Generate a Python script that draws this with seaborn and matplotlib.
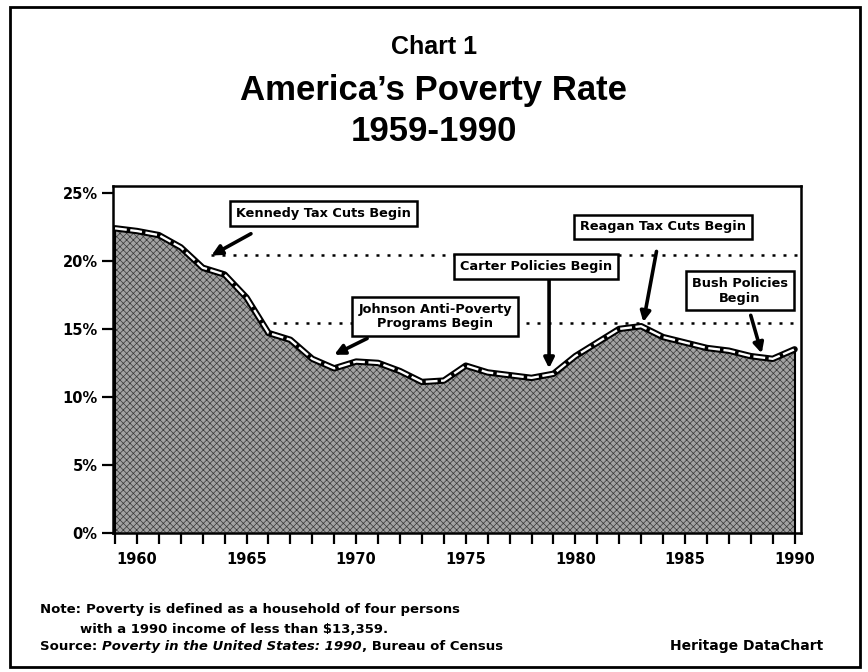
import seaborn as sns
import matplotlib.pyplot as plt
import matplotlib.patches as mpatches
import numpy as np
import pandas as pd

# poverty rate, percent of persons
years = list(range(1959, 1991))
rate = [22.4, 22.2, 21.9, 21.0, 19.5, 19.0, 17.3, 14.7, 14.2, 12.8, 12.1,
        12.6, 12.5, 11.9, 11.1, 11.2, 12.3, 11.8, 11.6, 11.4, 11.7, 13.0,
        14.0, 15.0, 15.2, 14.4, 14.0, 13.6, 13.4, 13.0, 12.8, 13.5]

ytick_vals = [0, 5, 10, 15, 20, 25]
ytick_labels = ['0%', '5%', '10%', '15%', '20%', '25%']
xtick_labels = ['1960', '1965', '1970', '1975', '1980', '1985', '1990']

# (label, box year, box pct, arrow tail, arrow tip)
notes = [
    ('Kennedy Tax Cuts Begin', 1968.5, 23.5, (1965.2, 22.0), (1963.4, 20.4)),
    ('Johnson Anti-Poverty\nPrograms Begin', 1973.6, 15.9, (1970.5, 14.3), (1969.0, 13.1)),
    ('Carter Policies Begin', 1978.2, 19.6, (1978.8, 18.9), (1978.8, 12.1)),
    ('Reagan Tax Cuts Begin', 1984.0, 22.5, (1983.7, 20.7), (1983.1, 15.5)),
    ('Bush Policies\nBegin', 1987.5, 17.8, (1988.0, 16.0), (1988.5, 13.2)),
]
# dotted reference lines: (start year, pct)
ref_lines = [(1963.4, 20.4), (1966.2, 15.4)]

df = pd.DataFrame({'year': years, 'rate': rate})

sns.set_style('ticks')
plt.rcParams['font.family'] = ['DejaVu Sans']
plt.rcParams['text.color'] = 'black'
plt.rcParams['hatch.linewidth'] = 0.5

fig = plt.figure(figsize=(8.68, 6.72), dpi=100)
ax = fig.add_axes([0.130, 0.207, 0.793, 0.516])

ax.fill_between(df['year'], 0, df['rate'], facecolor='#a2a2a2',
                edgecolor='#383838', hatch='xxxxx', linewidth=0, zorder=1)
sns.lineplot(data=df, x='year', y='rate', color='black', linewidth=4.6,
             ax=ax, zorder=3)
sns.lineplot(data=df, x='year', y='rate', color='white', linewidth=1.7,
             ax=ax, zorder=4, dashes=(5, 1.5))
ax.plot([1959, 1959], [0, rate[0]], color='black', lw=1.5, zorder=3)
ax.plot([1990, 1990], [0, rate[-1]], color='black', lw=1.5, zorder=3)

for x0, y in ref_lines:
    ax.plot([x0, 1990.3], [y, y], color='black', lw=1.8,
            linestyle=(0, (1.2, 3.2)), zorder=2)

for label, bx, by, tail, tip in notes:
    ax.text(bx, by, label, ha='center', va='center', fontsize=9.3,
            fontweight='bold', linespacing=1.15, zorder=6,
            bbox=dict(boxstyle='square,pad=0.45', fc='white', ec='black', lw=1.8))
    ax.annotate('', xy=tip, xytext=tail, zorder=5,
                arrowprops=dict(arrowstyle='-|>,head_length=0.6,head_width=0.3',
                                color='black', lw=2.6, shrinkA=0, shrinkB=0))

ax.set_xlim(1958.9, 1990.3)
ax.set_ylim(0, 25.5)
ax.set_xticks(years)
ax.set_xticklabels([str(y) if str(y) in xtick_labels else '' for y in years])
ax.set_yticks(ytick_vals)
ax.set_yticklabels(ytick_labels)
ax.set_xlabel('')
ax.set_ylabel('')
ax.tick_params(axis='both', direction='out', length=8, width=1.6,
               labelsize=10.5, colors='black')
ax.tick_params(axis='x', pad=6)
ax.tick_params(axis='y', pad=3)
for lab in ax.get_xticklabels() + ax.get_yticklabels():
    lab.set_fontweight('bold')
for s in ax.spines.values():
    s.set_visible(True)
    s.set_linewidth(1.8)
    s.set_color('black')

# titles
tfont = ['Liberation Sans Narrow', 'Liberation Sans', 'DejaVu Sans']
fig.text(0.5, 0.930, 'Chart 1', ha='center', va='center', fontsize=18,
         fontweight='bold', family=tfont)
fig.text(0.5, 0.866, 'America\u2019s Poverty Rate', ha='center', va='center',
         fontsize=25, fontweight='bold', family=tfont)
fig.text(0.5, 0.804, '1959-1990', ha='center', va='center', fontsize=25,
         fontweight='bold', family=tfont)

# footnotes
fig.canvas.draw()
rend = fig.canvas.get_renderer()


def run_text(x_px, y_frac, parts):
    x = x_px
    for txt, kw in parts:
        t = fig.text(x / fig.bbox.width, y_frac, txt, va='baseline', ha='left',
                     fontsize=9.5, fontweight='bold', **kw)
        bb = t.get_window_extent(renderer=rend)
        x = bb.x1


run_text(40, 0.088, [('Note: ', {}),
                     ('Poverty is defined as a household of four persons', {})])
run_text(80, 0.058, [('with a 1990 income of less than $13,359.', {})])
run_text(40, 0.033, [('Source: ', {}),
                     ('Poverty in the United States: 1990', dict(style='italic')),
                     (', Bureau of Census', {})])
fig.text(747 / 868, 0.033, 'Heritage DataChart', ha='center', va='baseline',
         fontsize=10, fontweight='bold')

fig.add_artist(mpatches.Rectangle((10 / 868, 5 / 672), 850 / 868, 660 / 672,
                                  transform=fig.transFigure, fill=False,
                                  ec='black', lw=2))

plt.savefig('out.png', dpi=100)
plt.close()
